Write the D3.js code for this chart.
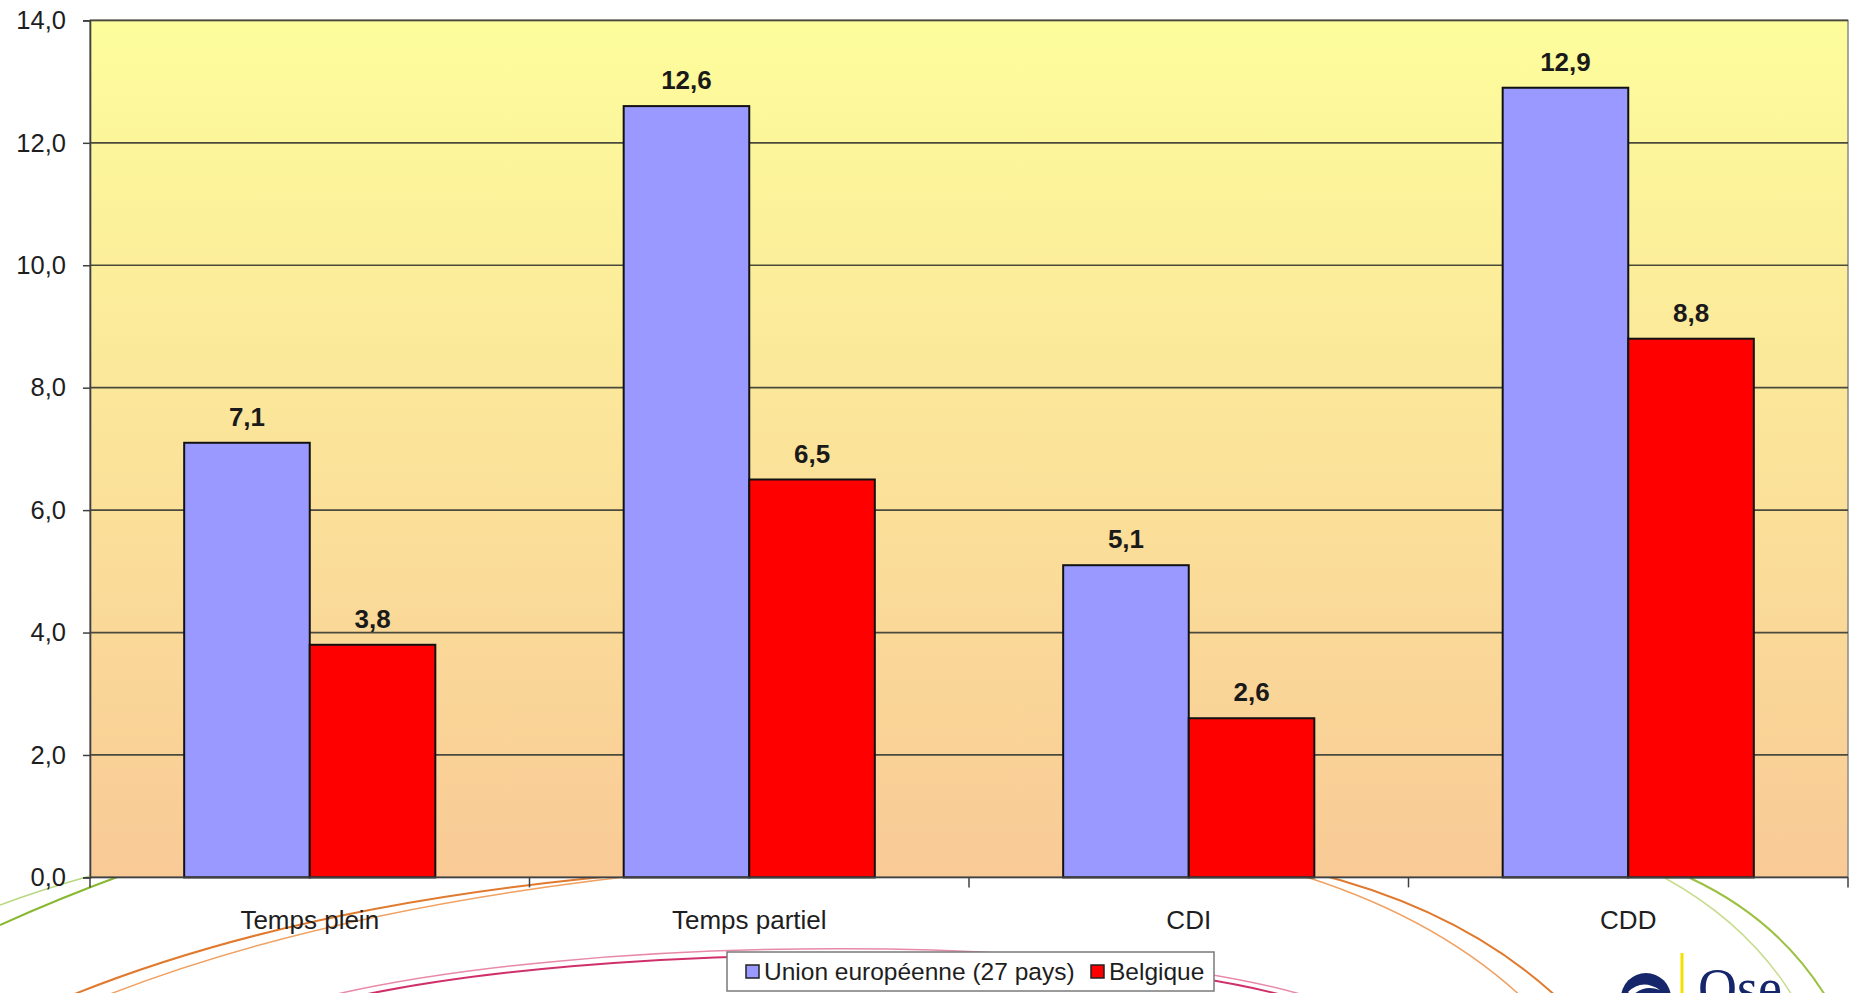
<!DOCTYPE html>
<html>
<head>
<meta charset="utf-8">
<script src="https://cdn.jsdelivr.net/npm/d3@7"></script>
<style>
  html, body { margin: 0; padding: 0; background: #ffffff; }
  svg { display: block; }
</style>
</head>
<body>
<svg id="chart" width="1857" height="993"></svg>
<script>
const categories = ["Temps plein", "Temps partiel", "CDI", "CDD"];
const seriesNames = ["Union européenne (27 pays)", "Belgique"];
const euValues = [7.1, 12.6, 5.1, 12.9];
const beValues = [3.8, 6.5, 2.6, 8.8];
const yTickValues = [0, 2, 4, 6, 8, 10, 12, 14];
const seriesColors = ["#9999FF", "#FF0000"];

const W = 1857, H = 993;
const plot = { left: 90, right: 1848, top: 20.4, bottom: 877.4 };
const font = "'Liberation Sans', Arial, sans-serif";
const fmt = v => d3.format(".1f")(v).replace(".", ",");

const svg = d3.select("#chart");

// gradient
const defs = svg.append("defs");
const grad = defs.append("linearGradient").attr("id", "bg").attr("x1", 0).attr("y1", 0).attr("x2", 0).attr("y2", 1);
grad.append("stop").attr("offset", "0%").attr("stop-color", "#FDFD9C");
grad.append("stop").attr("offset", "45%").attr("stop-color", "#FBE69A");
grad.append("stop").attr("offset", "100%").attr("stop-color", "#F9CA96");

// decorative template arcs (behind chart)
const deco = svg.append("g").attr("fill", "none");
const arcs = [
  { d: "M 60 1000 Q 300 900 660 872", c: "#E07A2E", w: 2 },
  { d: "M 95 1000 Q 330 905 690 870", c: "#F0A060", w: 1.5 },
  { d: "M 1310 872 Q 1465 910 1560 1000", c: "#E07A2E", w: 2 },
  { d: "M 1290 872 Q 1435 915 1525 1000", c: "#F0A060", w: 1.5 },
  { d: "M 340 1000 C 600 940 1100 940 1300 1000", c: "#D0306A", w: 2 },
  { d: "M 320 998 C 590 932 1110 932 1320 1000", c: "#E889A8", w: 1.5 },
  { d: "M 0 925 Q 60 898 120 876", c: "#88B830", w: 2 },
  { d: "M 0 905 Q 40 890 90 876", c: "#B8D880", w: 1.5 },
  { d: "M 1690 878 Q 1780 920 1828 1000", c: "#9CC040", w: 2 },
  { d: "M 1665 878 Q 1750 925 1795 1000", c: "#C8DC90", w: 1.5 }
];
deco.selectAll("path").data(arcs).join("path")
  .attr("d", d => d.d).attr("stroke", d => d.c).attr("stroke-width", d => d.w);

// scales
const x0 = d3.scaleBand().domain(categories).range([plot.left, plot.right]).paddingInner(0).paddingOuter(0);
const x1 = d3.scaleBand().domain(seriesNames).range([0, x0.bandwidth()]).paddingInner(0).paddingOuter(0.75);
const y = d3.scaleLinear().domain([0, 14]).range([plot.bottom, plot.top]);

// plot area
svg.append("rect")
  .attr("x", plot.left).attr("y", plot.top)
  .attr("width", plot.right - plot.left).attr("height", plot.bottom - plot.top)
  .attr("fill", "url(#bg)").attr("stroke", "#8a8a8a").attr("stroke-width", 1.5);

// gridlines
svg.append("g").selectAll("line").data(yTickValues.filter(v => v > 0)).join("line")
  .attr("x1", plot.left).attr("x2", plot.right)
  .attr("y1", d => y(d)).attr("y2", d => y(d))
  .attr("stroke", "#4a4a3c").attr("stroke-width", 1.7);

// y axis
const yAxis = svg.append("g").attr("transform", `translate(${plot.left},0)`)
  .call(d3.axisLeft(y).tickValues(yTickValues).tickFormat(fmt).tickSize(7).tickPadding(17));
yAxis.select(".domain").attr("stroke", "#404040").attr("stroke-width", 1.6);
yAxis.selectAll(".tick line").attr("stroke", "#404040").attr("stroke-width", 1.5);
yAxis.selectAll(".tick text").attr("font-family", font).attr("font-size", 25.5).attr("fill", "#1e1e1e");

// bars
const data = categories.map((c, i) => ({ cat: c, vals: [
  { s: seriesNames[0], v: euValues[i], c: seriesColors[0] },
  { s: seriesNames[1], v: beValues[i], c: seriesColors[1] }
]}));

const groups = svg.append("g").selectAll("g").data(data).join("g")
  .attr("transform", d => `translate(${x0(d.cat)},0)`);

groups.selectAll("rect").data(d => d.vals).join("rect")
  .attr("x", d => x1(d.s)).attr("width", x1.bandwidth())
  .attr("y", d => y(d.v)).attr("height", d => y(0) - y(d.v))
  .attr("fill", d => d.c).attr("stroke", "#111").attr("stroke-width", 2);

groups.selectAll("text").data(d => d.vals).join("text")
  .attr("x", d => x1(d.s) + x1.bandwidth() / 2)
  .attr("y", d => y(d.v) - 17)
  .attr("text-anchor", "middle")
  .attr("font-family", font).attr("font-size", 26).attr("font-weight", "bold")
  .attr("fill", "#1a1a1a")
  .text(d => fmt(d.v));

// x axis
const xAxisG = svg.append("g").attr("transform", `translate(0,${plot.bottom})`);
xAxisG.append("line").attr("x1", plot.left).attr("x2", plot.right).attr("y1", 0).attr("y2", 0)
  .attr("stroke", "#404040").attr("stroke-width", 1.6);
const boundaries = categories.map(c => x0(c)).concat([x0(categories[categories.length - 1]) + x0.bandwidth()]);
xAxisG.selectAll("line.tk").data(boundaries).join("line").attr("class", "tk")
  .attr("x1", d => d).attr("x2", d => d).attr("y1", 0).attr("y2", 10)
  .attr("stroke", "#404040").attr("stroke-width", 1.5);
xAxisG.selectAll("text").data(categories).join("text")
  .attr("x", d => x0(d) + x0.bandwidth() / 2).attr("y", 52)
  .attr("text-anchor", "middle")
  .attr("font-family", font).attr("font-size", 26).attr("fill", "#1e1e1e")
  .text(d => d);

// legend
const lg = svg.append("g");
lg.append("rect").attr("x", 727).attr("y", 952).attr("width", 487).attr("height", 39)
  .attr("fill", "#ffffff").attr("stroke", "#7a7a7a").attr("stroke-width", 1.5);
const legendItems = [
  { name: seriesNames[0], color: seriesColors[0], mx: 746, tx: 764 },
  { name: seriesNames[1], color: seriesColors[1], mx: 1091, tx: 1109 }
];
lg.selectAll("rect.m").data(legendItems).join("rect").attr("class", "m")
  .attr("x", d => d.mx).attr("y", 965).attr("width", 13).attr("height", 13)
  .attr("fill", d => d.color).attr("stroke", "#222").attr("stroke-width", 1.5);
lg.selectAll("text").data(legendItems).join("text")
  .attr("x", d => d.tx).attr("y", 980)
  .attr("font-family", font).attr("font-size", 24.5).attr("fill", "#1e1e1e")
  .text(d => d.name);

// logo (partially cropped at bottom, as in the reference)
const logo = svg.append("g");
logo.append("circle").attr("cx", 1646).attr("cy", 998).attr("r", 25).attr("fill", "#16266A");
logo.append("path").attr("d", "M 1628 992 Q 1642 978 1660 990 Q 1644 984 1632 996 Z").attr("fill", "#ffffff");
logo.append("line").attr("x1", 1682).attr("x2", 1682).attr("y1", 953).attr("y2", 993)
  .attr("stroke", "#F2E000").attr("stroke-width", 3);
logo.append("text").attr("x", 1698).attr("y", 1006)
  .attr("font-family", "'Liberation Serif', serif").attr("font-size", 54).attr("fill", "#16266A")
  .text("Ose");
</script>
</body>
</html>
